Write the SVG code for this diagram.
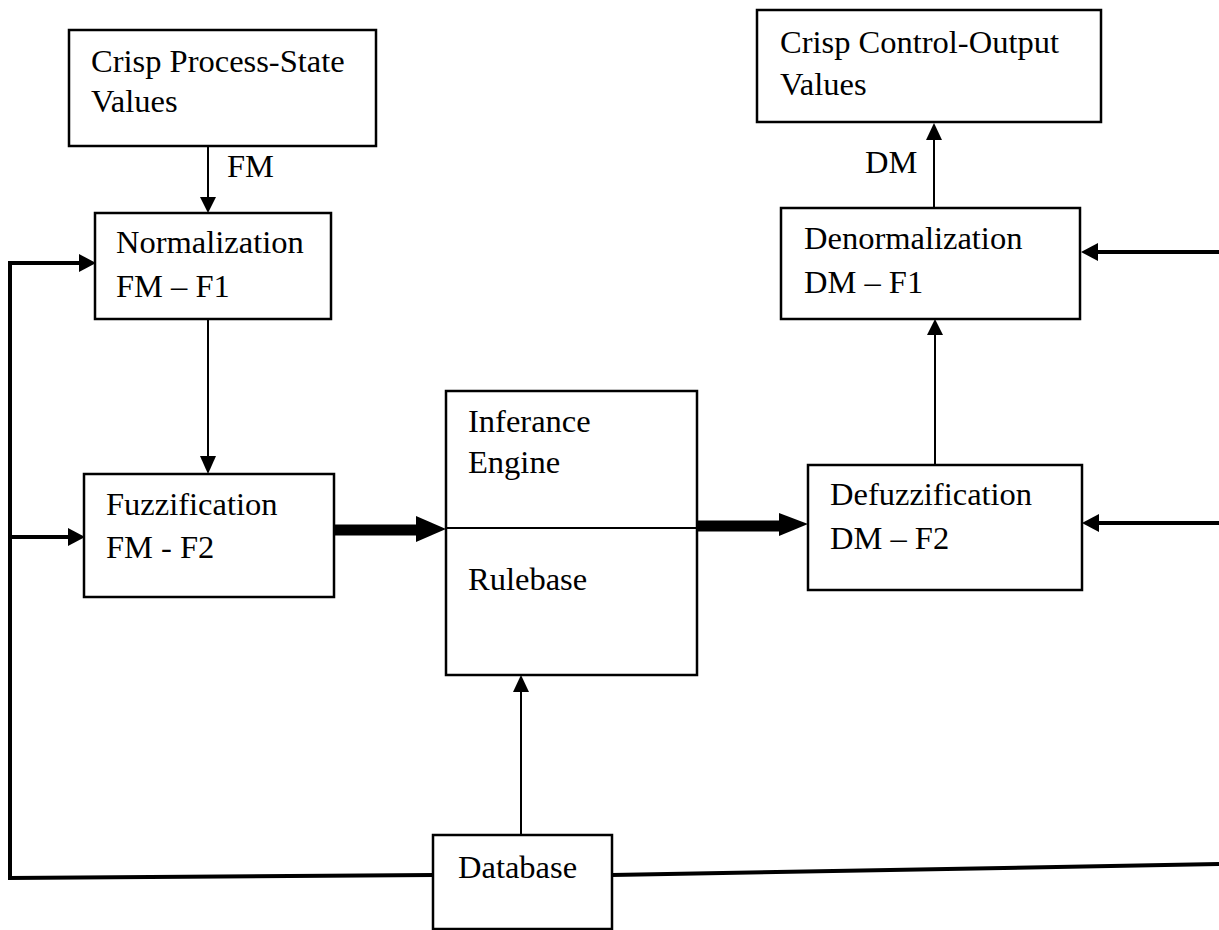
<svg xmlns="http://www.w3.org/2000/svg" width="1219" height="930" viewBox="0 0 1219 930">
<style>
  .box { fill: #fff; stroke: #000; stroke-width: 2.5; }
  .t { font-family: "Times New Roman", "Liberation Serif", Tinos, "DejaVu Serif", serif; font-size: 32.5px; fill: #000; }
  .thin { stroke: #000; stroke-width: 2; fill: none; }
  .med { stroke: #000; stroke-width: 4; fill: none; }
  .fat { stroke: #000; stroke-width: 11; fill: none; }
</style>
<rect width="1219" height="930" fill="#fff"/>
<g id="connectors">
  <line class="thin" x1="208" y1="146" x2="208" y2="198"/>
  <polygon points="200,197 216,197 208,213"/>
  <text class="t" x="227" y="177">FM</text>
  <line class="thin" x1="208" y1="319" x2="208" y2="458"/>
  <polygon points="200,456 216,456 208,474"/>
  <line class="fat" x1="334" y1="530" x2="420" y2="530"/>
  <polygon points="416,516 446,529 416,542"/>
  <line class="fat" x1="697" y1="526" x2="782" y2="526"/>
  <polygon points="779,513 808,524 779,536"/>
  <line class="thin" x1="935" y1="465" x2="935" y2="333"/>
  <polygon points="927,335 943,335 935,319"/>
  <line class="thin" x1="934" y1="208" x2="934" y2="138"/>
  <polygon points="926,140 942,140 934,123"/>
  <text class="t" x="865" y="173">DM</text>
  <line class="thin" x1="521" y1="835" x2="521" y2="690"/>
  <polygon points="513,692 529,692 521,675"/>
  <polyline class="med" points="433,875 10,878 10,263 82,263"/>
  <polygon points="79,254 96,263 79,272"/>
  <line class="med" x1="10" y1="537" x2="70" y2="537"/>
  <polygon points="68,528 85,537 68,546"/>
  <line class="med" x1="612" y1="875" x2="1219" y2="864"/>
  <line class="med" x1="1219" y1="252" x2="1094" y2="252"/>
  <polygon points="1098,243 1081,252 1098,261"/>
  <line class="med" x1="1219" y1="523" x2="1096" y2="523"/>
  <polygon points="1099,514 1082,523 1099,532"/>
</g>
<g id="crisp-process-state">
  <rect class="box" x="69" y="30" width="307" height="116"/>
  <text class="t" x="91" y="72">Crisp Process-State</text>
  <text class="t" x="91" y="112">Values</text>
</g>
<g id="normalization">
  <rect class="box" x="95" y="213" width="236" height="106"/>
  <text class="t" x="116" y="253">Normalization</text>
  <text class="t" x="116" y="297">FM – F1</text>
</g>
<g id="fuzzification">
  <rect class="box" x="84" y="474" width="250" height="123"/>
  <text class="t" x="106" y="515">Fuzzification</text>
  <text class="t" x="106" y="558">FM - F2</text>
</g>
<g id="inference-engine">
  <rect class="box" x="446" y="391" width="251" height="284"/>
  <line class="thin" x1="446" y1="528" x2="697" y2="528"/>
  <text class="t" x="468" y="432">Inferance</text>
  <text class="t" x="468" y="473">Engine</text>
  <text class="t" x="468" y="590">Rulebase</text>
</g>
<g id="defuzzification">
  <rect class="box" x="808" y="465" width="274" height="125"/>
  <text class="t" x="830" y="505">Defuzzification</text>
  <text class="t" x="830" y="549">DM – F2</text>
</g>
<g id="denormalization">
  <rect class="box" x="781" y="208" width="299" height="111"/>
  <text class="t" x="804" y="249">Denormalization</text>
  <text class="t" x="804" y="293">DM – F1</text>
</g>
<g id="crisp-control-output">
  <rect class="box" x="757" y="10" width="344" height="112"/>
  <text class="t" x="780" y="53">Crisp Control-Output</text>
  <text class="t" x="780" y="95">Values</text>
</g>
<g id="database">
  <rect class="box" x="433" y="835" width="179" height="94"/>
  <text class="t" x="458" y="878">Database</text>
</g>
</svg>
